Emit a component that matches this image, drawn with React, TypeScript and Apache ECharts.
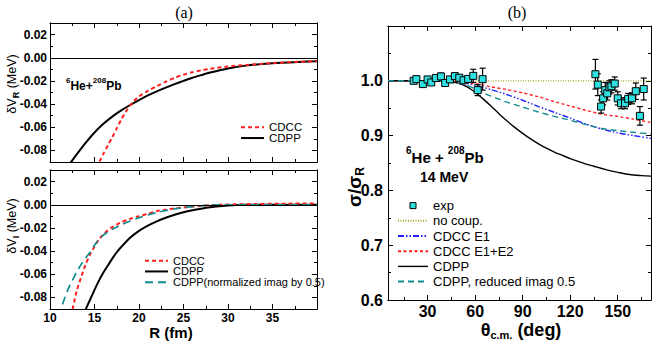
import React, { useEffect, useRef } from 'react';
import * as echarts from 'echarts';

// ---------- Panel (a) top: delta V_R ----------
const R_CDCC_VR = [15.2, 15.6, 16.0, 16.5, 17.0, 17.5, 18.0, 18.5, 19.0, 19.5, 20.0, 21.0, 22.0, 23.0, 24.0, 25.0, 26.0, 27.0, 28.0, 30.0, 32.0, 35.0, 38.0, 40.0];
const CDCC_VR = [-0.095, -0.089, -0.083, -0.0757, -0.0685, -0.061, -0.0535, -0.0468, -0.0412, -0.0368, -0.0333, -0.0285, -0.0245, -0.0207, -0.0173, -0.0146, -0.0125, -0.0108, -0.0095, -0.0076, -0.0062, -0.0046, -0.0035, -0.003];
const R_CDPP_VR = [12.0, 13.0, 14.0, 15.0, 16.0, 17.0, 18.0, 19.0, 20.0, 21.0, 22.0, 23.0, 24.0, 25.0, 26.0, 27.0, 28.0, 30.0, 32.0, 35.0, 38.0, 40.0];
const CDPP_VR = [-0.094, -0.0835, -0.0735, -0.0645, -0.057, -0.0508, -0.0455, -0.0408, -0.0365, -0.0325, -0.029, -0.0258, -0.0228, -0.02, -0.0173, -0.015, -0.0128, -0.0092, -0.0068, -0.0048, -0.0036, -0.003];

// ---------- Panel (a) bottom: delta V_I ----------
const R_CDCC_VI = [12.3, 12.55, 13.0, 13.5, 14.0, 14.5, 15.0, 15.5, 16.0, 16.5, 17.0, 17.5, 18.0, 19.0, 20.0, 21.0, 22.0, 23.0, 24.0, 25.0, 26.0, 27.0, 28.0, 30.0, 33.0, 36.0, 40.0];
const CDCC_VI = [-0.096, -0.0896, -0.0745, -0.0625, -0.0515, -0.043, -0.036, -0.03, -0.0255, -0.022, -0.0193, -0.0171, -0.0152, -0.0122, -0.0098, -0.0078, -0.0055, -0.0042, -0.0032, -0.0024, -0.0016, -0.001, -0.0004, 0.0002, 0.0006, 0.0009, 0.0012];
const R_CDPP_VI = [13.8, 14.0, 14.5, 15.0, 15.5, 16.0, 16.5, 17.0, 17.5, 18.0, 19.0, 20.0, 21.0, 22.0, 23.0, 24.0, 25.0, 26.0, 27.0, 28.0, 29.0, 30.0, 32.0, 35.0, 40.0];
const CDPP_VI = [-0.094, -0.0905, -0.082, -0.0735, -0.0655, -0.0585, -0.0525, -0.0465, -0.041, -0.0365, -0.0285, -0.0225, -0.018, -0.0143, -0.0112, -0.0086, -0.0065, -0.0048, -0.0034, -0.0022, -0.0013, -0.0006, -0.0001, 0.0, 0.0];
const R_NORM_VI = [11.4, 12.0, 12.5, 13.0, 13.5, 14.0, 14.5, 15.0, 15.5, 16.0, 16.5, 17.0, 17.5, 18.0, 19.0, 20.0, 21.0, 22.0, 23.0, 24.0, 25.0, 26.0, 27.0, 28.0, 30.0, 35.0, 40.0];
const NORM_VI = [-0.086, -0.0735, -0.0655, -0.058, -0.0515, -0.046, -0.041, -0.035, -0.0298, -0.0262, -0.0235, -0.0212, -0.0192, -0.0173, -0.014, -0.0112, -0.0088, -0.0067, -0.005, -0.0036, -0.0025, -0.0016, -0.0009, -0.0004, 0.0, 0.0, 0.0];

// ---------- Panel (b): sigma / sigma_R ----------
const THETA_NOCOUP = [5, 171];
const NOCOUP = [1.0, 1.0];
const THETA_E1 = [5, 30, 40, 50, 60, 70, 80, 90, 100, 110, 120, 130, 140, 150, 160, 171];
const CDCC_E1 = [1.0, 1.0, 0.9995, 0.998, 0.992, 0.984, 0.975, 0.9645, 0.953, 0.9425, 0.932, 0.921, 0.912, 0.905, 0.9, 0.895];
const THETA_E12 = [5, 30, 40, 50, 60, 70, 80, 90, 100, 110, 120, 130, 140, 150, 160, 171];
const CDCC_E12 = [1.0, 1.0, 1.0, 0.998, 0.995, 0.989, 0.984, 0.978, 0.971, 0.962, 0.954, 0.946, 0.939, 0.935, 0.93, 0.924];
const THETA_CDPP = [5, 20, 30, 40, 45, 50, 55, 60, 65, 70, 75, 80, 85, 90, 95, 100, 105, 110, 115, 120, 125, 130, 135, 140, 145, 150, 155, 160, 165, 171];
const CDPP_RATIO = [1.0, 1.0, 1.0, 0.9995, 0.998, 0.995, 0.989, 0.979, 0.967, 0.954, 0.94, 0.927, 0.915, 0.904, 0.894, 0.885, 0.877, 0.87, 0.864, 0.858, 0.853, 0.848, 0.844, 0.84, 0.836, 0.833, 0.83, 0.828, 0.827, 0.826];
const THETA_RED = [5, 30, 40, 45, 50, 55, 60, 65, 70, 80, 90, 100, 110, 120, 130, 140, 150, 160, 171];
const CDPP_RED = [1.0, 1.0, 0.999, 0.997, 0.995, 0.992, 0.985, 0.978, 0.972, 0.961, 0.952, 0.943, 0.935, 0.928, 0.92, 0.913, 0.909, 0.906, 0.903];

const EXP_THETA = [21.2, 22.9, 27.0, 30.0, 32.3, 35.2, 38.4, 41.1, 44.1, 47.2, 50.0, 52.7, 55.6, 58.8, 61.6, 64.7, 135.9, 137.4, 139.5, 140.8, 142.1, 143.4, 144.8, 146.0, 148.1, 150.0, 152.1, 154.6, 156.6, 159.0, 161.4, 164.0, 166.4];
const EXP_RATIO = [1.0, 1.003, 0.994, 1.0025, 0.997, 1.005, 1.008, 0.996, 1.0025, 1.0085, 1.0055, 1.001, 1.0035, 1.009, 0.983, 1.003, 1.012, 0.993, 0.953, 0.968, 0.983, 0.977, 0.988, 0.99, 0.995, 0.968, 0.959, 0.959, 0.967, 0.968, 0.981, 0.936, 0.985];
const EXP_ERR = [0.003, 0.003, 0.003, 0.003, 0.003, 0.004, 0.006, 0.004, 0.005, 0.006, 0.005, 0.005, 0.006, 0.012, 0.01, 0.02, 0.027, 0.02, 0.012, 0.012, 0.014, 0.012, 0.012, 0.012, 0.012, 0.012, 0.01, 0.01, 0.01, 0.01, 0.015, 0.017, 0.02];

const VA_LABELS = [-0.08, -0.06, -0.04, -0.02, 0.0, 0.02];
const VA_MINOR = [-0.07, -0.05, -0.03, -0.01, 0.01];
const THETA_LABELS = [30, 60, 90, 120, 150];
const THETA_MINOR = [15, 45, 75, 105, 135, 165];

const FONT = '"Liberation Sans", Arial, sans-serif';
const SERIF = '"Liberation Serif", "Times New Roman", serif';
const SQUARE = 'path://M0 0H10V10H0Z';

const zip = (xs: number[], ys: number[]) => xs.map((x, i) => [x, ys[i]]);

const black = '#000';
const line = { show: true, onZero: false, lineStyle: { color: black, width: 1 } };
const noSplit = { show: false };

function xAxisDef(grid: number, pos: string, opts: any) {
  return {
    type: 'value', gridIndex: grid, position: pos,
    axisLine: line, splitLine: noSplit, minorSplitLine: noSplit,
    ...opts,
  };
}

function buildOption(): any {
  const tick = (len: number, extra: any = {}) => ({ show: true, inside: true, length: len, lineStyle: { color: black, width: 1 }, ...extra });
  const leftX = (grid: number, pos: string, labels: boolean) => xAxisDef(grid, pos, {
    min: 10, max: 40, interval: 5,
    axisTick: tick(5),
    minorTick: { show: true, splitNumber: 2, length: 3, lineStyle: { color: black } },
    axisLabel: labels ? { show: true, showMaxLabel: false, margin: 3, fontFamily: FONT, fontWeight: 'bold', fontSize: 12, color: black } : { show: false },
  });
  const rightX = (pos: string, vals: number[], len: number, labels: boolean) => xAxisDef(2, pos, {
    min: 5, max: 171,
    axisTick: tick(len, { customValues: vals }),
    axisLabel: labels ? { show: true, customValues: vals, margin: 3, fontFamily: FONT, fontWeight: 'bold', fontSize: 16, color: black } : { show: false },
  });

  const leftY = (grid: number, pos: string, vals: number[], len: number, labels: boolean) => ({
    type: 'value', gridIndex: grid, position: pos, min: -0.09, max: 0.03,
    axisLine: line, splitLine: noSplit, minorSplitLine: noSplit,
    axisTick: tick(len, { customValues: vals }),
    axisLabel: labels ? { show: true, customValues: vals, margin: 3, fontFamily: FONT, fontWeight: 'bold', fontSize: 12, color: black, formatter: (v: number) => v.toFixed(2) } : { show: false },
  });
  const rightY = (pos: string, labels: boolean) => ({
    type: 'value', gridIndex: 2, position: pos, min: 0.6, max: 1.1, interval: 0.1,
    axisLine: line, splitLine: noSplit, minorSplitLine: noSplit,
    axisTick: tick(5),
    minorTick: { show: true, splitNumber: 2, length: 3, lineStyle: { color: black } },
    axisLabel: labels ? { show: true, showMaxLabel: false, margin: 5, fontFamily: FONT, fontWeight: 'bold', fontSize: 16, color: black, formatter: (v: number) => v.toFixed(1) } : { show: false },
  });

  const zeroLine = {
    silent: true, symbol: 'none', label: { show: false },
    lineStyle: { color: black, width: 1, type: 'solid' }, data: [{ yAxis: 0 }],
  };

  const RED = '#ff1f1f';
  const BLUE = '#2020ff';
  const TEAL = '#138c8c';
  const OLIVE = '#a6a620';
  const CYAN = '#2fe0e0';

  const lineSeries = (name: string, xi: number, yi: number, data: any[], ls: any, extra: any = {}) => ({
    type: 'line', name, xAxisIndex: xi, yAxisIndex: yi, data, symbol: 'none', smooth: 0.25,
    lineStyle: ls, itemStyle: { color: ls.color }, z: 2, silent: true, ...extra,
  });

  const legendText = (size: number, lh: number) => ({ fontFamily: FONT, fontSize: size, lineHeight: lh, color: black });
  const hideSym = { opacity: 0 };

  return {
    animation: false,
    backgroundColor: '#fff',
    grid: [
      { left: 50, top: 23, width: 267, height: 139 },
      { left: 50, top: 170, width: 267, height: 139 },
      { left: 388, top: 26, width: 263, height: 274 },
    ],
    xAxis: [
      leftX(0, 'bottom', false),
      leftX(0, 'top', false),
      leftX(1, 'bottom', true),
      leftX(1, 'top', false),
      rightX('bottom', THETA_LABELS, 5, true),
      rightX('bottom', THETA_MINOR, 3, false),
      rightX('top', THETA_LABELS, 5, false),
      rightX('top', THETA_MINOR, 3, false),
    ],
    yAxis: [
      leftY(0, 'left', VA_LABELS, 5, true),
      leftY(0, 'left', VA_MINOR, 3, false),
      leftY(0, 'right', VA_LABELS, 5, false),
      leftY(0, 'right', VA_MINOR, 3, false),
      leftY(1, 'left', VA_LABELS, 5, true),
      leftY(1, 'left', VA_MINOR, 3, false),
      leftY(1, 'right', VA_LABELS, 5, false),
      leftY(1, 'right', VA_MINOR, 3, false),
      rightY('left', true),
      rightY('right', false),
    ],
    legend: [
      {
        left: 240, top: 121, orient: 'vertical', padding: 0, itemWidth: 23, itemHeight: 8, itemGap: -2,
        selectedMode: false, textStyle: legendText(11.5, 12.7), itemStyle: hideSym,
        data: ['CDCC', 'CDPP'],
      },
      {
        left: 144, top: 255, orient: 'vertical', padding: 0, itemWidth: 23, itemHeight: 8, itemGap: -0.5,
        selectedMode: false, textStyle: legendText(11, 11.3), itemStyle: hideSym,
        data: ['CDCC', 'CDPP', 'CDPP(normalized imag by 0.5)'],
      },
      {
        left: 397, top: 198, orient: 'vertical', padding: 0, itemWidth: 30, itemHeight: 6, itemGap: 0,
        selectedMode: false, textStyle: legendText(13, 15.2), itemStyle: hideSym,
        data: [
          { name: 'exp', icon: SQUARE, itemStyle: { opacity: 1, color: CYAN, borderColor: black, borderWidth: 1 } },
          'no coup.', 'CDCC E1', 'CDCC E1+E2',
          { name: 'CDPP', lineStyle: { width: 1.4 } },
          'CDPP, reduced imag 0.5',
        ],
      },
    ],
    series: [
      // (a) top
      lineSeries('CDCC', 0, 0, zip(R_CDCC_VR, CDCC_VR), { color: RED, width: 2, type: [4, 3] }, { markLine: zeroLine, z: 3 }),
      lineSeries('CDPP', 0, 0, zip(R_CDPP_VR, CDPP_VR), { color: black, width: 2, type: 'solid' }),
      // (a) bottom
      lineSeries('CDCC', 2, 4, zip(R_CDCC_VI, CDCC_VI), { color: RED, width: 2, type: [4, 3] }, { markLine: zeroLine, z: 3 }),
      lineSeries('CDPP', 2, 4, zip(R_CDPP_VI, CDPP_VI), { color: black, width: 2, type: 'solid' }),
      lineSeries('CDPP(normalized imag by 0.5)', 2, 4, zip(R_NORM_VI, NORM_VI), { color: TEAL, width: 1.7, type: [8, 5] }, { z: 3 }),
      // (b)
      lineSeries('no coup.', 4, 8, zip(THETA_NOCOUP, NOCOUP), { color: OLIVE, width: 1.3, type: [1, 1.5] }, { smooth: false }),
      lineSeries('CDCC E1', 4, 8, zip(THETA_E1, CDCC_E1), { color: BLUE, width: 1.4, type: [6, 2, 1.5, 2, 1.5, 2] }),
      lineSeries('CDCC E1+E2', 4, 8, zip(THETA_E12, CDCC_E12), { color: RED, width: 1.4, type: [3, 2.5] }),
      lineSeries('CDPP', 4, 8, zip(THETA_CDPP, CDPP_RATIO), { color: black, width: 1.4, type: 'solid' }),
      lineSeries('CDPP, reduced imag 0.5', 4, 8, zip(THETA_RED, CDPP_RED), { color: TEAL, width: 1.4, type: [6, 4] }),
      {
        type: 'custom', name: 'exp error', xAxisIndex: 4, yAxisIndex: 8, z: 4, silent: true,
        data: EXP_THETA.map((t, i) => [t, EXP_RATIO[i], EXP_ERR[i]]),
        encode: { x: 0, y: 1 },
        renderItem: (params: any, api: any) => {
          const x = api.value(0), y = api.value(1), e = api.value(2);
          const top = api.coord([x, y + e]);
          const bot = api.coord([x, y - e]);
          const w = 3;
          const st = { stroke: black, lineWidth: 1.2 };
          return {
            type: 'group',
            children: [
              { type: 'line', shape: { x1: top[0], y1: top[1], x2: bot[0], y2: bot[1] }, style: st },
              { type: 'line', shape: { x1: top[0] - w, y1: top[1], x2: top[0] + w, y2: top[1] }, style: st },
              { type: 'line', shape: { x1: bot[0] - w, y1: bot[1], x2: bot[0] + w, y2: bot[1] }, style: st },
            ],
          };
        },
      },
      {
        type: 'scatter', name: 'exp', xAxisIndex: 4, yAxisIndex: 8, z: 5, silent: true,
        symbol: SQUARE, symbolSize: 7,
        itemStyle: { color: CYAN, borderColor: black, borderWidth: 1, opacity: 1 },
        data: zip(EXP_THETA, EXP_RATIO),
      },
    ],
    graphic: [
      { type: 'text', x: 184, y: 12, style: { text: '(a)', font: `16px ${SERIF}`, fill: black, align: 'center', verticalAlign: 'middle' } },
      { type: 'text', x: 517, y: 12, style: { text: '(b)', font: `16px ${SERIF}`, fill: black, align: 'center', verticalAlign: 'middle' } },
      {
        type: 'text', x: 12, y: 84, rotation: Math.PI / 2,
        style: {
          text: '{m|δV}{s|R}{m| (MeV)}', fill: black, align: 'center', verticalAlign: 'middle',
          rich: {
            m: { fontFamily: FONT, fontSize: 12.5, lineHeight: 16, fill: black },
            s: { fontFamily: FONT, fontSize: 9, fontWeight: 'bold', lineHeight: 10, verticalAlign: 'bottom', fill: black },
          },
        },
      },
      {
        type: 'text', x: 12, y: 226, rotation: Math.PI / 2,
        style: {
          text: '{m|δV}{s|I}{m| (MeV)}', fill: black, align: 'center', verticalAlign: 'middle',
          rich: {
            m: { fontFamily: FONT, fontSize: 12.5, lineHeight: 16, fill: black },
            s: { fontFamily: FONT, fontSize: 9, fontWeight: 'bold', lineHeight: 10, verticalAlign: 'bottom', fill: black },
          },
        },
      },
      { type: 'text', x: 171, y: 332, style: { text: 'R (fm)', font: `bold 15px ${FONT}`, fill: black, align: 'center', verticalAlign: 'middle' } },
      {
        type: 'text', x: 354, y: 187, rotation: Math.PI / 2,
        style: {
          text: '{m|σ/σ}{s|R}', fill: black, align: 'center', verticalAlign: 'middle',
          rich: {
            m: { fontFamily: FONT, fontSize: 19, fontWeight: 'bold', lineHeight: 23, fill: black },
            s: { fontFamily: FONT, fontSize: 12, fontWeight: 'bold', lineHeight: 13, verticalAlign: 'bottom', fill: black },
          },
        },
      },
      {
        type: 'text', x: 521, y: 330,
        style: {
          text: '{m|θ}{s|c.m.}{m| (deg)}', fill: black, align: 'center', verticalAlign: 'middle',
          rich: {
            m: { fontFamily: FONT, fontSize: 18, fontWeight: 'bold', lineHeight: 21, fill: black },
            s: { fontFamily: FONT, fontSize: 11, fontWeight: 'bold', lineHeight: 12, verticalAlign: 'bottom', fill: black },
          },
        },
      },
      {
        type: 'text', x: 66, y: 84,
        style: {
          text: '{p|6}{m|He+}{p|208}{m|Pb}', fill: black, align: 'left', verticalAlign: 'middle',
          rich: {
            m: { fontFamily: FONT, fontSize: 12, fontWeight: 'bold', lineHeight: 16, verticalAlign: 'bottom', fill: black },
            p: { fontFamily: FONT, fontSize: 8, fontWeight: 'bold', lineHeight: 9, verticalAlign: 'top', fill: black },
          },
        },
      },
      {
        type: 'text', x: 406, y: 155,
        style: {
          text: '{p|6}{m|He + }{p|208}{m|Pb}', fill: black, align: 'left', verticalAlign: 'middle',
          rich: {
            m: { fontFamily: FONT, fontSize: 15, fontWeight: 'bold', lineHeight: 19, verticalAlign: 'bottom', fill: black },
            p: { fontFamily: FONT, fontSize: 10, fontWeight: 'bold', lineHeight: 11, verticalAlign: 'top', fill: black },
          },
        },
      },
      { type: 'text', x: 420, y: 177, style: { text: '14 MeV', font: `bold 14px ${FONT}`, fill: black, align: 'left', verticalAlign: 'middle' } },
    ],
  };
}

export default function App() {
  const ref = useRef<HTMLDivElement>(null);
  useEffect(() => {
    const chart = echarts.init(ref.current as HTMLDivElement, null, { renderer: 'svg' });
    chart.setOption(buildOption());
    return () => chart.dispose();
  }, []);
  return (
    <div
      ref={ref}
      style={{ position: 'absolute', left: 0, top: 0, width: 652, height: 347, background: '#fff' }}
    />
  );
}
